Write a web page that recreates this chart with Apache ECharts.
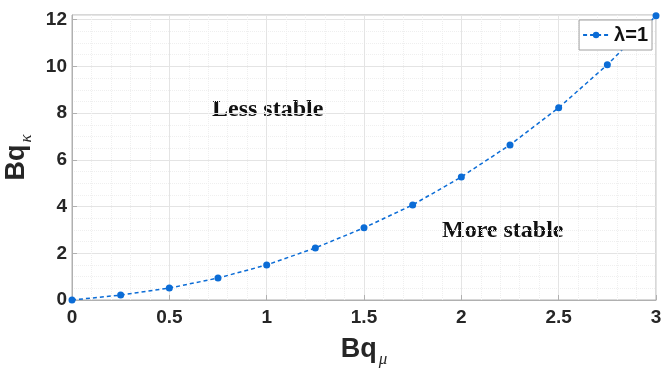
<!DOCTYPE html>
<html>
<head>
<meta charset="utf-8">
<script src="https://cdn.jsdelivr.net/npm/echarts@6/dist/echarts.min.js"></script>
<style>
    html, body { margin: 0; padding: 0; background: #fff; }
    #main { width: 662px; height: 369px; }
</style>
</head>
<body>
<div id="main"></div>
<script>
// 数据
var bqMu = [0, 0.25, 0.5, 0.75, 1, 1.25, 1.5, 1.75, 2, 2.25, 2.5, 2.75, 3];
var bqKappa = [0, 0.21, 0.51, 0.94, 1.5, 2.23, 3.09, 4.07, 5.27, 6.64, 8.23, 10.07, 12.17];
var seriesName = 'λ=1';

var blue = '#0b6cd6';
var pts = [];
for (var i = 0; i < bqMu.length; i++) {
    pts.push([bqMu[i], bqKappa[i]]);
}

var oChart = echarts.init(document.getElementById('main'));

var tickFont = {
    fontFamily: 'Liberation Sans, Arial',
    fontWeight: 'bold',
    fontSize: 19,
    color: '#262626'
};

var nameRich = {
    a: { fontFamily: 'Liberation Sans, Arial', fontWeight: 'bold', fontSize: 27, color: '#262626' },
    b: { fontFamily: 'Liberation Serif, Times New Roman', fontStyle: 'italic', fontSize: 17, color: '#262626', padding: [20, 0, 0, 2] }
};

var option = {
    animation: false,
    grid: {
        left: 72,
        right: 6,
        top: 15,
        bottom: 69,
        outerBoundsMode: 'none',
        containLabel: false,
        show: true,
        borderColor: '#b0b0b0',
        borderWidth: 1
    },
    legend: {
        data: [seriesName],
        right: 10,
        top: 20,
        backgroundColor: '#fff',
        borderColor: '#a0a0a0',
        borderWidth: 1,
        borderRadius: 0,
        padding: [5, 4, 5, 3],
        itemWidth: 26,
        itemHeight: 8,
        itemGap: 2,
        textStyle: {
            fontFamily: 'Liberation Sans, Arial',
            fontWeight: 'bold',
            fontSize: 20,
            color: '#111'
        }
    },
    xAxis: {
        type: 'value',
        min: 0,
        max: 3,
        interval: 0.5,
        name: '{a|Bq}{b|μ}',
        nameLocation: 'middle',
        nameGap: 31,
        nameTextStyle: { rich: nameRich },
        axisLine: { show: true, lineStyle: { color: '#b0b0b0' } },
        axisTick: { show: true, inside: true, length: 5, lineStyle: { color: '#b0b0b0' } },
        axisLabel: Object.assign({ margin: 8, formatter: function (v) { return String(v); } }, tickFont),
        splitLine: { show: true, lineStyle: { color: '#e4e4e4', width: 1 } },
        minorTick: { show: false, splitNumber: 5 },
        minorSplitLine: { show: true, lineStyle: { color: '#efefef', type: 'dotted', width: 1 } }
    },
    yAxis: {
        type: 'value',
        min: 0,
        max: 12.2,
        interval: 2,
        name: '{a|Bq}{b|κ}',
        nameLocation: 'middle',
        nameGap: 34,
        nameRotate: 90,
        nameTextStyle: { rich: nameRich },
        axisLine: { show: true, lineStyle: { color: '#b0b0b0' } },
        axisTick: { show: true, inside: true, length: 5, lineStyle: { color: '#b0b0b0' } },
        axisLabel: Object.assign({
            margin: 5,
            showMaxLabel: false,
            formatter: function (v) { return (v % 2 === 0) ? String(v) : ''; }
        }, tickFont),
        splitLine: { show: true, lineStyle: { color: '#e4e4e4', width: 1 } },
        minorTick: { show: false, splitNumber: 4 },
        minorSplitLine: { show: true, lineStyle: { color: '#efefef', type: 'dotted', width: 1 } }
    },
    graphic: [
        {
            type: 'text',
            left: 212,
            top: 98,
            style: {
                text: 'Less stable',
                font: 'bold 24px "Liberation Serif", "Times New Roman", serif',
                fill: '#111'
            }
        },
        {
            type: 'text',
            left: 442,
            top: 219,
            style: {
                text: 'More stable',
                font: 'bold 24px "Liberation Serif", "Times New Roman", serif',
                fill: '#111'
            }
        }
    ],
    series: [{
        name: seriesName,
        type: 'line',
        data: pts,
        symbol: 'circle',
        symbolSize: 7,
        clip: false,
        itemStyle: { color: blue },
        lineStyle: { color: blue, width: 1.5, type: [4, 3] }
    }]
};

oChart.setOption(option);
</script>
</body>
</html>
